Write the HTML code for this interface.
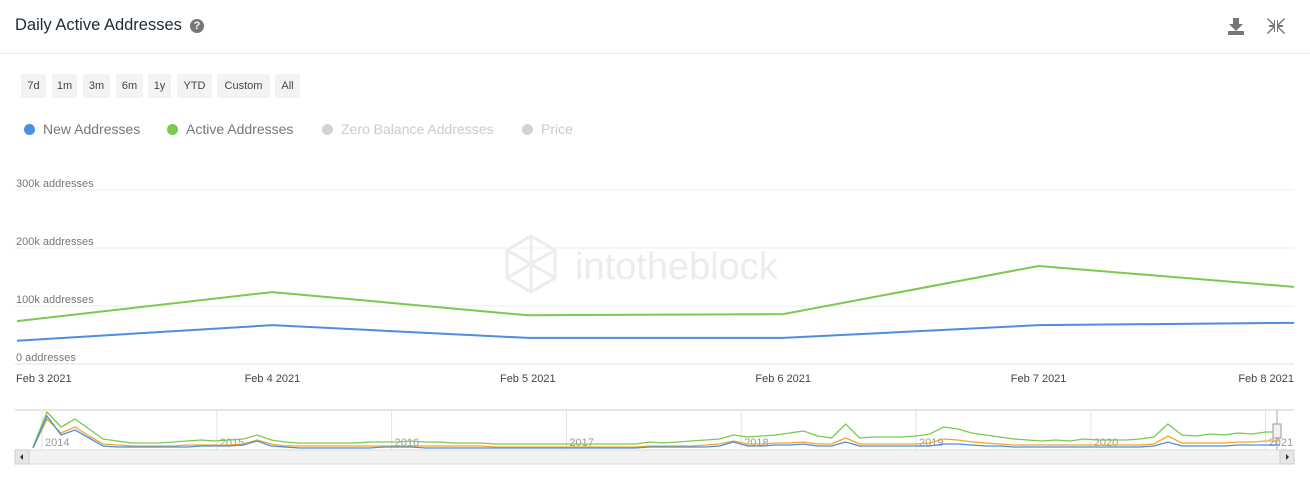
<!DOCTYPE html>
<html><head><meta charset="utf-8"><style>
body{margin:0;width:1310px;height:477px;background:#fff;font-family:"Liberation Sans",sans-serif;overflow:hidden;position:relative}
.hdr{position:absolute;left:0;top:0;width:1310px;height:53px;border-bottom:1px solid #e8e8e8}
.title{position:absolute;left:15px;top:16px;font-size:16.5px;color:#1e2a38}
.help{position:absolute;left:190px;top:19px;width:14px;height:14px;border-radius:50%;background:#777;color:#fff;font-size:11px;font-weight:bold;text-align:center;line-height:14px}
.btn{position:absolute;top:74px;height:24px;line-height:24px;background:#f3f3f3;border-radius:2px;font-size:11px;color:#444;text-align:center}
.leg{position:absolute;top:121px;font-size:14px;color:#777}
.leg i{display:inline-block;width:11px;height:11px;border-radius:50%;margin-right:8px;vertical-align:-1px}
</style></head><body>
<div class="hdr">
<div class="title">Daily Active Addresses</div>
<div class="help">?</div>
<svg style="position:absolute;left:1226px;top:16px" width="20" height="20"><path d="M7 2h6v6h4l-7 7-7-7h4z" fill="#777"/><rect x="2" y="15" width="16" height="4" fill="#777"/></svg>
<svg style="position:absolute;left:1266px;top:16px" width="20" height="20"><g fill="#777"><path d="M2 2l6 6V4h1v6H3V9h4L1 3z"/><path d="M18 2l-6 6V4h-1v6h6V9h-4l6-6z"/><path d="M2 18l6-6v4h1v-6H3v1h4l-6 6z"/><path d="M18 18l-6-6v4h-1v-6h6v1h-4l6 6z"/></g></svg>
</div>
<div class="btn" style="left:21px;width:25px">7d</div>
<div class="btn" style="left:52px;width:25px">1m</div>
<div class="btn" style="left:83px;width:27px">3m</div>
<div class="btn" style="left:116px;width:27px">6m</div>
<div class="btn" style="left:148px;width:23px">1y</div>
<div class="btn" style="left:177px;width:35px">YTD</div>
<div class="btn" style="left:217px;width:53px">Custom</div>
<div class="btn" style="left:275px;width:25px">All</div>
<div class="leg" style="left:24px"><i style="background:#4a8fe2"></i>New Addresses</div>
<div class="leg" style="left:167px"><i style="background:#7cc94f"></i>Active Addresses</div>
<div class="leg" style="left:322px;color:#ccc"><i style="background:#d3d3d3"></i>Zero Balance Addresses</div>
<div class="leg" style="left:522px;color:#ccc"><i style="background:#d3d3d3"></i>Price</div>
<svg id="c" width="1310" height="477" style="position:absolute;left:0;top:0"></svg>
<script>
const days=["Feb 3 2021","Feb 4 2021","Feb 5 2021","Feb 6 2021","Feb 7 2021","Feb 8 2021"];
const newAddr=[40,67,45,45,67,71];
const activeAddr=[74,124,84,86,169,133];
const yTicks=[0,100,200,300];
const navYears=["2014","2015","2016","2017","2018","2019","2020","2021"];
const navGreen=[2,37,22,30,20,10,8,6,6,6,7,8,9,8,9,10,14,9,7,6,6,6,6,6,7,7,7,8,7,7,6,6,6,5,5,5,5,5,5,5,5,5,5,5,7,6,7,8,9,10,14,12,13,14,16,18,13,11,25,11,12,12,12,13,15,22,20,16,14,12,10,9,8,9,8,10,9,9,9,10,12,25,14,13,15,14,16,15,17,17];
const navOrange=[1,30,16,22,13,5,4,3,3,3,3,4,4,4,4,5,9,5,3,3,3,3,3,3,3,3,3,3,3,3,3,3,3,2,2,2,2,2,2,2,2,2,2,2,3,3,3,3,4,5,8,5,5,6,6,7,5,5,11,5,5,5,5,5,6,10,9,7,6,5,4,4,4,4,4,4,4,4,4,4,5,13,6,6,6,6,7,7,8,8];
const navBlue=[1,33,14,19,11,3,2,2,2,2,2,2,3,3,3,4,8,3,2,1,1,1,1,1,1,2,2,2,1,1,1,1,1,1,1,1,1,1,1,1,1,1,1,1,2,2,2,2,2,3,7,3,3,4,4,5,3,3,7,3,3,3,3,3,3,5,5,4,3,3,2,2,2,2,2,2,2,2,2,2,3,7,3,3,3,3,4,4,4,4];
const NS="http://www.w3.org/2000/svg",svg=document.getElementById('c');
function mk(t,a,p){const e=document.createElementNS(NS,t);for(const k in a)e.setAttribute(k,a[k]);(p||svg).appendChild(e);return e}
const X0=17,X1=1294,Y0=364,PX=0.58;
const xs=i=>X0+i*(X1-X0)/(days.length-1), ys=v=>Y0-v*PX;
const wm=mk('text',{x:575,y:279,'font-size':38,fill:'#ececec','font-family':'Liberation Sans, sans-serif'});wm.textContent='intotheblock';


const wl=mk('path',{d:'M531 236l24 14v28l-24 14-24-14v-28z M507 250l48 28 M555 250l-48 28 M531 236v56',stroke:'#ececec','stroke-width':3,fill:'none'});


yTicks.forEach(v=>{const g=mk('line',{x1:15,x2:1294,y1:ys(v),y2:ys(v),stroke:v?'#eeeeee':'#e0e0e0'});


const t=mk('text',{x:16,y:ys(v)-3,'font-size':11,fill:'#777'});t.textContent=v?v+'k addresses':'0 addresses';

});
days.forEach((d,i)=>{const t=mk('text',{x:i==0?X0-1:i==days.length-1?X1:xs(i),y:382,'font-size':11,fill:'#444','text-anchor':i==0?'start':i==days.length-1?'end':'middle'});t.textContent=d;

});
function line(arr,col,name){const p=mk('polyline',{points:arr.map((v,i)=>xs(i)+','+ys(v)).join(' '),fill:'none',stroke:col,'stroke-width':2});

}
line(activeAddr,'#7cc94f','active-addresses-line');
line(newAddr,'#4a8fe2','new-addresses-line');
const nb=mk('line',{x1:15,x2:1294,y1:410,y2:410,stroke:'#ccc'});


const NX0=42,YR=174.8,nx=i=>33+i*(1280-33)/(navGreen.length-1),ny=v=>449-v*1.0;
navYears.forEach((y,i)=>{const x=NX0+i*YR;const l=mk('line',{x1:x,x2:x,y1:410,y2:450,stroke:'#e2e2e2'});


const t=mk('text',{x:x+3,y:446,'font-size':11,fill:'#999'});t.textContent=y;

});
function nl(arr,col,name){const p=mk('polyline',{points:arr.map((v,i)=>nx(i)+','+ny(v)).join(' '),fill:'none',stroke:col,'stroke-width':1.3});

}
nl(navGreen,'#7cc94f','navigator-active-line');
nl(navOrange,'#f5a623','navigator-zero-balance-line');
nl(navBlue,'#4a8fe2','navigator-new-line');
const sb=mk('rect',{x:15,y:450,width:1279,height:14,fill:'#f2f2f2',stroke:'#ddd'});


const lb=mk('rect',{x:15,y:450,width:14,height:14,fill:'#e6e6e6',stroke:'#ccc'});
const rb=mk('rect',{x:1280,y:450,width:14,height:14,fill:'#e6e6e6',stroke:'#ccc'});
const la=mk('path',{d:'M20 457l3-3v6z',fill:'#333'});
const ra=mk('path',{d:'M1289 457l-3-3v6z',fill:'#333'});
const hl=mk('line',{x1:1277,x2:1277,y1:410,y2:450,stroke:'#aaa'});
const h=mk('rect',{x:1273,y:424,width:8,height:14,fill:'#f2f2f2',stroke:'#999'});
</script>
</body></html>
